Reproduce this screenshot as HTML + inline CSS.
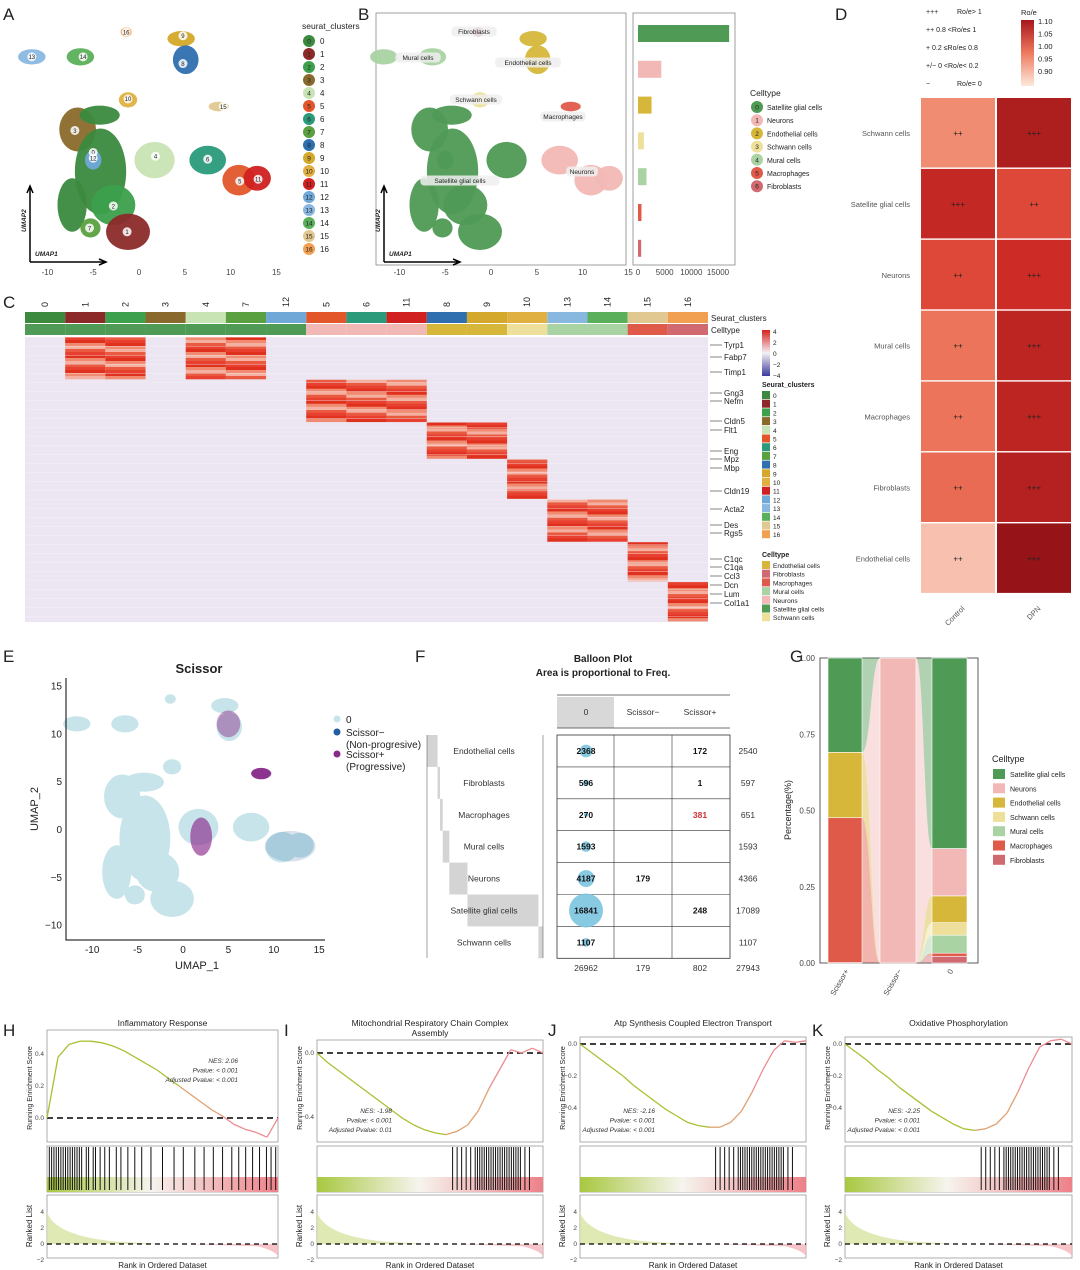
<!DOCTYPE html>
<html><head><meta charset="utf-8"><style>
html,body{margin:0;padding:0;background:#fff;}
svg{display:block;font-family:"Liberation Sans",Arial,sans-serif;}
</style></head><body>
<svg id="fig" width="1080" height="1270" viewBox="0 0 1080 1270" xmlns="http://www.w3.org/2000/svg">
<defs>
<linearGradient id="roeGrad" x1="0" y1="1" x2="0" y2="0"><stop offset="0" stop-color="#fde8dc"/><stop offset="0.5" stop-color="#ee7a5e"/><stop offset="1" stop-color="#a8161c"/></linearGradient>
<linearGradient id="zGrad" x1="0" y1="1" x2="0" y2="0"><stop offset="0" stop-color="#3a3a9a"/><stop offset="0.5" stop-color="#f4f0f6"/><stop offset="1" stop-color="#d8201c"/></linearGradient>
<linearGradient id="rankGrad" x1="0" y1="0" x2="1" y2="0"><stop offset="0" stop-color="#a8c840"/><stop offset="0.45" stop-color="#f6f4ee"/><stop offset="1" stop-color="#ee8088"/></linearGradient>
</defs>
</svg>
<script>
const NS='http://www.w3.org/2000/svg';
const svg=document.getElementById('fig');
function mk(tag,a,p){const e=document.createElementNS(NS,tag);for(const k in a)e.setAttribute(k,a[k]);(p||svg).appendChild(e);return e;}
function tx(x,y,s,size,opt,p){const e=mk('text',Object.assign({x:x,y:y,'font-size':size,fill:'#222'},opt||{}),p);e.textContent=s;return e;}

// ---------- data ----------
const clusterColors=['#3b8a3e','#8c2a2a','#3ca04c','#8a6a2c','#c8e4b4','#e2562a','#2a9a7a','#5aa040','#2f6fb0','#d4a82a','#e0b040','#d02020','#70a8d8','#88b8e0','#5ab05a','#e0c890','#f0a050'];
const cellTypes=['Satellite glial cells','Neurons','Endothelial cells','Schwann cells','Mural cells','Macrophages','Fibroblasts'];
const cellColors=['#4f9a55','#f2b8b5','#d6b73a','#eee09a','#a9d3a3','#e05a4a','#d06a70'];
const clusterToCell=[0,0,0,0,0,1,1,0,2,2,3,1,0,4,4,5,6];
// UMAP blobs: [umapX, umapY, radiusX, radiusY, cluster]
const blobs=[[-11.7,11.0,1.5,0.8,13],[-6.4,11.0,1.5,0.9,14],[-1.4,13.6,0.6,0.5,16],[4.6,12.9,1.5,0.8,9],[5.1,10.7,1.4,1.5,8],[-1.2,6.5,1.0,0.8,10],[8.7,5.8,1.1,0.5,15],[-6.7,3.4,2.0,2.3,3],[-4.3,4.9,2.2,1.0,0],[-4.2,-1.0,2.8,4.5,0],[-7.3,-4.5,1.6,2.8,0],[-5.0,0.2,0.9,1.0,12],[-2.8,-4.5,2.4,2.1,2],[-5.3,-6.9,1.1,1.0,7],[-1.2,-7.3,2.4,1.9,1],[1.7,0.2,2.2,1.9,4],[7.5,0.2,2.0,1.5,6],[10.9,-1.9,1.8,1.6,5],[12.9,-1.7,1.5,1.3,11]];
const cellCounts0=[16841,4187,2368,1107,1593,270,596];
const cellCountsMinus=[0,179,0,0,0,0,0];
const cellCountsPlus=[248,0,172,0,0,381,1];
const barTotals=[17089,4366,2540,1107,1593,651,597];
const roeRows=['Schwann cells','Satellite glial cells','Neurons','Mural cells','Macrophages','Fibroblasts','Endothelial cells'];
const roeControl=[0.95,1.07,1.02,0.97,0.97,0.98,0.91];
const roeDPN=[1.10,1.02,1.06,1.08,1.08,1.09,1.13];
const roeSymControl=['++','+++','++','++','++','++','++'];
const roeSymDPN=['+++','++','+++','+++','+++','+++','+++'];
const heatOrder=[0,1,2,3,4,7,12,5,6,11,8,9,10,13,14,15,16];
const heatBands=[[0,0.15,[1,2,4,7]],[0.15,0.3,[5,6,11]],[0.3,0.43,[8,9]],[0.43,0.57,[10]],[0.57,0.72,[13,14]],[0.72,0.86,[15]],[0.86,1,[16]]];
const geneLabels=['Tyrp1','Fabp7','Timp1','Gng3','Nefm','Cldn5','Flt1','Eng','Mpz','Mbp','Cldn19','Acta2','Des','Rgs5','C1qc','C1qa','Ccl3','Dcn','Lum','Col1a1'];
const geneY=[345,357,372,393,401,421,430,451,459,468,491,509,525,533,559,567,576,585,594,603];
const gseaTitles=['Inflammatory Response','Mitochondrial Respiratory Chain Complex|Assembly','Atp Synthesis Coupled Electron Transport','Oxidative Phosphorylation'];
const gseaStats=[['NES: 2.06','Pvalue: < 0.001','Adjusted Pvalue: < 0.001'],['NES: -1.98','Pvalue: < 0.001','Adjusted Pvalue: 0.01'],['NES: -2.16','Pvalue: < 0.001','Adjusted Pvalue: < 0.001'],['NES: -2.25','Pvalue: < 0.001','Adjusted Pvalue: < 0.001']];
const esUp=[0,0.38,0.46,0.48,0.48,0.47,0.45,0.42,0.38,0.34,0.30,0.25,0.20,0.15,0.10,0.05,0.01,-0.04,-0.07,-0.09,-0.12,0];
const esDownI=[0,-0.06,-0.11,-0.16,-0.21,-0.26,-0.31,-0.36,-0.41,-0.45,-0.48,-0.50,-0.51,-0.49,-0.45,-0.36,-0.22,-0.10,0.02,0.0,0.03,0];
const esDownJ=[0,-0.05,-0.10,-0.15,-0.20,-0.26,-0.31,-0.36,-0.41,-0.45,-0.49,-0.51,-0.52,-0.52,-0.49,-0.42,-0.30,-0.16,-0.04,0.02,0.01,0.02];
const esDownK=[0,-0.05,-0.10,-0.16,-0.21,-0.27,-0.32,-0.37,-0.42,-0.46,-0.50,-0.53,-0.54,-0.53,-0.50,-0.43,-0.30,-0.15,-0.02,0.02,0.03,0];
const hitsUp=[0.01,0.02,0.03,0.04,0.05,0.06,0.07,0.08,0.09,0.1,0.11,0.12,0.13,0.14,0.15,0.17,0.18,0.2,0.21,0.23,0.25,0.27,0.3,0.32,0.35,0.38,0.41,0.45,0.5,0.55,0.59,0.64,0.68,0.72,0.76,0.8,0.83,0.86,0.89,0.92,0.95,0.97,0.99];
const hitsDown=[0.6,0.62,0.64,0.66,0.68,0.7,0.71,0.72,0.73,0.74,0.75,0.76,0.77,0.78,0.79,0.8,0.81,0.82,0.83,0.84,0.85,0.86,0.87,0.88,0.89,0.9,0.92,0.94];

const letters=[['A',3,20],['B',358,20],['C',3,308],['D',835,20],['E',3,662],['F',415,662],['G',790,662],['H',3,1036],['I',284,1036],['J',548,1036],['K',812,1036]];
for(const L of letters){const e=tx(L[1],L[2],L[0],17,{});

}

function umap(ox,oy,sx,sy,colorFn,opac,name){
  const g=mk('g',{});
  
  
  for(const b of blobs){
    const c=mk('ellipse',{cx:ox+b[0]*sx,cy:oy-b[1]*sy,rx:b[2]*sx,ry:b[3]*sy,fill:colorFn(b[4]),opacity:opac},g);
    
    
  }
  return g;
}
umap(139,162,9.16,9.56,k=>clusterColors[k],0.95,'umap-clusters');
const labelPos=[[0,-5,1],[1,-1.3,-7.3],[2,-2.8,-4.6],[3,-7.0,3.3],[4,1.8,0.6],[5,11.0,-2],[6,7.5,0.3],[7,-5.4,-6.9],[8,4.8,10.3],[9,4.8,13.2],[10,-1.2,6.6],[11,13.0,-1.8],[12,-5.0,0.4],[13,-11.7,11],[14,-6.1,11],[15,9.2,5.8],[16,-1.4,13.6]];
for(const l of labelPos){const c=mk('circle',{cx:139+l[1]*9.16,cy:162-l[2]*9.56,r:4.5,fill:'#fff',opacity:0.85});


const t=tx(139+l[1]*9.16,162-l[2]*9.56+2.3,String(l[0]),6,{'text-anchor':'middle'});

}
function umapAxes(x0,y0){
 const a=mk('path',{d:`M${x0},${y0} L${x0},${y0-75} M${x0-3},${y0-69} L${x0},${y0-76} L${x0+3},${y0-69} M${x0},${y0} L${x0+75},${y0} M${x0+69},${y0-3} L${x0+76},${y0} L${x0+69},${y0+3}`,stroke:'#000','stroke-width':1.5,fill:'none'});
 
 
 const u1=tx(x0+5,y0-6,'UMAP1',6.5,{'font-weight':'bold','font-style':'italic'});
 
 
 const u2=tx(x0-4,y0-30,'UMAP2',6.5,{'font-weight':'bold','font-style':'italic',transform:`rotate(-90 ${x0-4} ${y0-30})`});
 
 
}
umapAxes(30,262);
const xTicksU=[-10,-5,0,5,10,15];
for(const v of xTicksU){const t=tx(139+v*9.16,275,String(v),8,{'text-anchor':'middle',fill:'#444'});

}
let t0=tx(302,29,'seurat_clusters',8.5,{});


for(let i=0;i<17;i++){const c=mk('circle',{cx:309,cy:41+13*i,r:6,fill:clusterColors[i]});


const n=tx(309,43.5+13*i,String(i),6.5,{'text-anchor':'middle'});


const t=tx(320,44+13*i,String(i),8,{});

}

const fr=mk('rect',{x:376,y:13,width:250,height:252,fill:'none',stroke:'#888','stroke-width':0.8});


umap(491,162,9.16,9.56,k=>cellColors[clusterToCell[k]],0.95,'umap-celltypes');
umapAxes(384,262);
for(const v of xTicksU){const t=tx(491+v*9.16,275,String(v),8,{'text-anchor':'middle',fill:'#444'});

}
const bLabels=[['Fibroblasts',474,33],['Mural cells',418,59],['Endothelial cells',528,64],['Schwann cells',476,101],['Macrophages',563,118],['Satellite glial cells',460,182],['Neurons',582,173]];
for(const l of bLabels){const w=l[0].length*3.4+8;const r=mk('rect',{x:l[1]-w/2,y:l[2]-6.5,width:w,height:10,rx:4,fill:'#eee',opacity:0.85});


const t=tx(l[1],l[2]+1,l[0],6.5,{'text-anchor':'middle'});

}
const bfr=mk('rect',{x:633,y:13,width:102,height:252,fill:'none',stroke:'#888','stroke-width':0.8});


const bx=v=>638+v*0.005333;
for(let i=0;i<7;i++){const r=mk('rect',{x:bx(0),y:25+35.8*i,width:bx(barTotals[i])-bx(0),height:17,fill:cellColors[i]});

}
const bTicks=[0,5000,10000,15000];
for(const v of bTicks){const t=tx(bx(v),275,String(v),8,{'text-anchor':'middle',fill:'#444'});

}
t0=tx(750,96,'Celltype',8.5,{});


for(let i=0;i<7;i++){const c=mk('circle',{cx:757,cy:107+13.2*i,r:6,fill:cellColors[i]});


const n=tx(757,109.5+13.2*i,String(i),6.5,{'text-anchor':'middle'});


const t=tx(767,110+13.2*i,cellTypes[i],7,{});

}

function roeColor(v){const f=Math.max(0,Math.min(1,(v-0.88)/0.25));
 const stops=[[253,232,220],[238,122,94],[214,48,40],[150,20,24]];
 const p=f*3,i=Math.min(2,Math.floor(p)),t=p-i;const a=stops[i],b=stops[i+1];
 return `rgb(${Math.round(a[0]+(b[0]-a[0])*t)},${Math.round(a[1]+(b[1]-a[1])*t)},${Math.round(a[2]+(b[2]-a[2])*t)})`;}
const dLeg=[['+++','Ro/e> 1',14],['++ 0.8 <Ro/e≤ 1','',32],['+   0.2 ≤Ro/e≤ 0.8','',50],['+/−    0 <Ro/e< 0.2','',68],['−','Ro/e= 0',86]];
for(const l of dLeg){const t=tx(926,l[2],l[0],7,{});


if(l[1]){const t2=tx(957,l[2],l[1],7,{});

}}
t0=tx(1021,15,'Ro/e',7.5,{});


const cb=mk('rect',{x:1021,y:20,width:13,height:66,fill:'url(#roeGrad)'});


const cbTicks=[1.10,1.05,1.00,0.95,0.90];
for(const v of cbTicks){const t=tx(1038,24+(1.10-v)*250,v.toFixed(2),7.5,{});

}
for(let i=0;i<7;i++){const y=98+70.9*i;
 const r1=mk('rect',{x:921,y:y,width:74,height:69.5,fill:roeColor(roeControl[i])});
 
 
 const r2=mk('rect',{x:997,y:y,width:74,height:69.5,fill:roeColor(roeDPN[i])});
 
 
 const s1=tx(958,y+38,roeSymControl[i],8,{'text-anchor':'middle',fill:'#222'});
 
 
 const s2=tx(1034,y+38,roeSymDPN[i],8,{'text-anchor':'middle',fill:'#222'});
 
 
 const l=tx(910,y+38,roeRows[i],7.5,{'text-anchor':'end',fill:'#555'});
 
 }
let tc=tx(958,612,'Control',7.5,{'text-anchor':'end',fill:'#555',transform:'rotate(-45 958 602)'});


tc=tx(1034,612,'DPN',7.5,{'text-anchor':'end',fill:'#555',transform:'rotate(-45 1034 602)'});



const hx0=25,hw=683/17,hy0=337,hy1=622,nRows=95;
const hg=mk('g',{});


const bgC=mk('rect',{x:hx0,y:hy0,width:683,height:hy1-hy0,fill:'#ece6f2'},hg);


const rh=(hy1-hy0)/nRows;
for(let c=0;c<17;c++){const cl=heatOrder[c];
 const r1=mk('rect',{x:hx0+c*hw,y:312,width:hw,height:11,fill:clusterColors[cl]});
 
 
 const r2=mk('rect',{x:hx0+c*hw,y:324,width:hw,height:11,fill:cellColors[clusterToCell[cl]]});
 
 
 const t=tx(hx0+c*hw+hw/2+3,307,String(cl),9,{'text-anchor':'start',transform:`rotate(-90 ${hx0+c*hw+hw/2+3} 307)`});
 
 
 for(const b of heatBands){ if(b[2].indexOf(cl)<0) continue;
  const y0=hy0+b[0]*(hy1-hy0),y1=hy0+b[1]*(hy1-hy0);
  const n=Math.round((y1-y0)/rh);
  for(let r=0;r<n;r++){const k=((r*7+c*3)%5);
   const col=['#e0301e','#ea5a40','#f08a70','#e84030','#f4b0a0'][k];
   const e=mk('rect',{x:hx0+c*hw,y:y0+r*rh,width:hw,height:rh+0.3,fill:col},hg);
   
   }}}
for(let r=0;r<nRows;r+=3){const e=mk('rect',{x:hx0,y:hy0+r*rh,width:683,height:0.6,fill:'#f8f4fa',opacity:0.6},hg);

}
t0=tx(711,321,'Seurat_clusters',8,{});


t0=tx(711,333,'Celltype',8,{});


for(let i=0;i<geneLabels.length;i++){const t=tx(724,geneY[i]+3,geneLabels[i],8,{});


const l=mk('line',{x1:710,y1:geneY[i],x2:722,y2:geneY[i],stroke:'#333','stroke-width':0.6});

}
const zb=mk('rect',{x:762,y:330,width:8,height:46,fill:'url(#zGrad)'});


const zt=[4,2,0,-2,-4];
for(let i=0;i<5;i++){const t=tx(773,334+i*11,String(zt[i]).replace('-','−'),6.5,{});

}
t0=tx(762,387,'Seurat_clusters',7,{'font-weight':'bold'});


for(let i=0;i<17;i++){const r=mk('rect',{x:762,y:391+8.7*i,width:8,height:8,fill:clusterColors[i]});


const t=tx(773,398+8.7*i,String(i),6.5,{});

}
t0=tx(762,557,'Celltype',7,{'font-weight':'bold'});


const ctAlpha=[2,6,5,4,1,0,3];
for(let i=0;i<7;i++){const k=ctAlpha[i];const r=mk('rect',{x:762,y:561+8.7*i,width:8,height:8,fill:cellColors[k]});


const t=tx(773,568+8.7*i,cellTypes[k],6.5,{});

}

t0=tx(199,673,'Scissor',13,{'text-anchor':'middle','font-weight':'bold'});


umap(183,829,9.08,9.56,k=>'#c6e4ea',1,'scissor-umap');
const scissorMarks=[[5.0,11.0,1.3,1.4,'#8a2a8a',0.45],[8.6,5.8,1.1,0.6,'#8a2a8a',0.95],[2.0,-0.8,1.2,2.0,'#8a2a8a',0.65],[11.8,-1.8,2.8,1.6,'#1f5fa0',0.18]];
for(const s of scissorMarks){const e=mk('ellipse',{cx:183+s[0]*9.08,cy:829-s[1]*9.56,rx:s[2]*9.08,ry:s[3]*9.56,fill:s[4],opacity:s[5]});

}
const eax=mk('path',{d:'M66,678 L66,940 L325,940',stroke:'#000','stroke-width':1,fill:'none'});


for(const v of xTicksU){const t=tx(183+v*9.08,953,String(v),10,{'text-anchor':'middle'});

}
const eyT=[15,10,5,0,-5,-10];
for(const v of eyT){const t=tx(62,829-v*9.56+4,String(v).replace('-','−'),10,{'text-anchor':'end'});

}
t0=tx(197,969,'UMAP_1',11,{'text-anchor':'middle'});


t0=tx(38,809,'UMAP_2',11,{'text-anchor':'middle',transform:'rotate(-90 38 809)'});


const eLeg=[['#c6e4ea','0',723],['#1f5fa0','Scissor−',736],['#8a2a8a','Scissor+',758]];
for(const l of eLeg){const c=mk('circle',{cx:337,cy:l[2]-4,r:3.5,fill:l[0]});


const t=tx(346,l[2],l[1],10,{});

}
t0=tx(346,748,'(Non-progresive)',10,{});


t0=tx(346,770,'(Progressive)',10,{});



// Panel F balloon
t0=tx(603,662,'Balloon Plot',10,{'text-anchor':'middle','font-weight':'bold'});


t0=tx(603,676,'Area is proportional to Freq.',10,{'text-anchor':'middle','font-weight':'bold'});


const fOrder=[2,6,5,4,1,0,3];
const colX=[586,643,700],rowY0=735,rH=31.9;
const hdr=mk('rect',{x:557,y:697,width:57,height:31,fill:'#d8d8d8'});


const hl=mk('path',{d:'M557,695 L730,695 M557,728 L730,728',stroke:'#444','stroke-width':0.8});


const colNames=['0','Scissor−','Scissor+'];
for(let j=0;j<3;j++){const t=tx(colX[j],715,colNames[j],8.5,{'text-anchor':'middle',fill:'#333'});

}
const tb=mk('rect',{x:557,y:rowY0,width:173,height:rH*7,fill:'none',stroke:'#333','stroke-width':0.8});


const gl=mk('path',{d:`M614,${rowY0} L614,${rowY0+rH*7} M672,${rowY0} L672,${rowY0+rH*7}`+[1,2,3,4,5,6].map(i=>` M557,${rowY0+rH*i} L730,${rowY0+rH*i}`).join(''),stroke:'#333','stroke-width':0.6});


const maxC=16841;
const cols3=[cellCounts0,cellCountsMinus,cellCountsPlus];
const rowTotals=fOrder.map(k=>cellCounts0[k]+cellCountsMinus[k]+cellCountsPlus[k]);
const allTotal=rowTotals.reduce((a,c)=>a+c,0);
let cum=0;
for(let i=0;i<7;i++){const wpx=rowTotals[i]/allTotal*116;
 const mb=mk('rect',{x:427+cum,y:rowY0+rH*i,width:wpx,height:rH,fill:'#d4d4d4'});
 
 
 cum+=wpx;}
const sums=[0,0,0];let grand=0;
for(let i=0;i<7;i++){const k=fOrder[i];const cy=rowY0+rH*(i+0.5);
 const lab=tx(484,cy+3,cellTypes[k],8.5,{'text-anchor':'middle',fill:'#333'});
 
 
 let rs=0;
 for(let j=0;j<3;j++){const v=cols3[j][k];sums[j]+=v;rs+=v;if(!v)continue;
  if(j===0){const b=mk('circle',{cx:colX[j],cy:cy,r:17*Math.sqrt(v/maxC),fill:'#7cc4e0',opacity:0.9});
  
  }
  const t=tx(colX[j],cy+3,String(v),8.5,{'text-anchor':'middle','font-weight':'bold',fill:(j===2&&k===5)?'#d03030':'#111'});
  
  }
 grand+=rs;
 const tt=tx(748,cy+3,String(rs),8.5,{'text-anchor':'middle',fill:'#333'});
 
 }
for(let j=0;j<3;j++){const t=tx(colX[j],971,String(sums[j]),8.5,{'text-anchor':'middle',fill:'#333'});

}
t0=tx(748,971,String(grand),8.5,{'text-anchor':'middle',fill:'#333'});


const vl=mk('path',{d:'M427,735 L427,958 M543,735 L543,958',stroke:'#666','stroke-width':0.6});



// Panel G alluvial
const gy0=658,gy1=963,gH=gy1-gy0;
const gax=mk('rect',{x:820,y:gy0,width:158,height:gH,fill:'none',stroke:'#333','stroke-width':0.8});


const stackOrder=[6,5,4,3,2,1,0];
const gBars=[[828,34,cellCountsPlus,'Scissor+'],[880,36,cellCountsMinus,'Scissor−'],[932,35,cellCounts0,'0']];
const segs=[];
for(const b of gBars){const tot=b[2].reduce((a,c)=>a+c,0);let acc=0;const s={};
 for(const k of stackOrder){const f=b[2][k]/tot;s[k]=[gy1-(acc+f)*gH,gy1-acc*gH];acc+=f;}
 segs.push(s);}
for(let bi=0;bi<2;bi++){for(const k of stackOrder){const a=segs[bi][k],c=segs[bi+1][k];
 if(a[1]-a[0]<0.01&&c[1]-c[0]<0.01)continue;
 const x1=gBars[bi][0]+gBars[bi][1],x2=gBars[bi+1][0],xm=(x1+x2)/2;
 const f=mk('path',{d:`M${x1},${a[0]} C${xm},${a[0]} ${xm},${c[0]} ${x2},${c[0]} L${x2},${c[1]} C${xm},${c[1]} ${xm},${a[1]} ${x1},${a[1]} Z`,fill:cellColors[k],opacity:0.45});
 
 }}
for(let bi=0;bi<3;bi++){for(const k of stackOrder){const s=segs[bi][k];if(s[1]-s[0]<0.01)continue;
 const r=mk('rect',{x:gBars[bi][0],y:s[0],width:gBars[bi][1],height:s[1]-s[0],fill:cellColors[k],stroke:'#fff','stroke-width':0.6});
 
 }
 const t=tx(gBars[bi][0]+gBars[bi][1]/2+4,971,gBars[bi][3],7.5,{'text-anchor':'end',fill:'#444',transform:`rotate(-60 ${gBars[bi][0]+gBars[bi][1]/2+4} 971)`});
 
 }
const gTicks=[0,0.25,0.5,0.75,1];
for(const v of gTicks){const t=tx(815,gy1-v*gH+3,v.toFixed(2),8,{'text-anchor':'end',fill:'#444'});

}
t0=tx(791,810,'Percentage(%)',9,{'text-anchor':'middle',transform:'rotate(-90 791 810)'});


t0=tx(992,762,'Celltype',9,{});


for(let i=0;i<7;i++){const r=mk('rect',{x:993,y:769+14.3*i,width:12,height:10,fill:cellColors[i]});


const t=tx(1010,777+14.3*i,cellTypes[i],7,{});

}

// GSEA panels
const gsea=[{x0:47,x1:278,es:esUp,hits:hitsUp,zeroY:1118,top:1030},{x0:317,x1:543,es:esDownI,hits:hitsDown,zeroY:1053,top:1040},{x0:580,x1:806,es:esDownJ,hits:hitsDown,zeroY:1044,top:1037},{x0:845,x1:1072,es:esDownK,hits:hitsDown,zeroY:1044,top:1037}];
gsea.forEach((p,gi)=>{
 const w=p.x1-p.x0,sc=160;const yES=v=>p.zeroY-v*sc;const xs=f=>p.x0+f*w;
 const tl=gseaTitles[gi].split('|');
 tl.forEach((s,li)=>{const t=tx((p.x0+p.x1)/2,1026+li*10,s,8.5,{'text-anchor':'middle'});
 
 });
 const box=mk('rect',{x:p.x0,y:p.top,width:w,height:1142-p.top,fill:'none',stroke:'#999','stroke-width':0.8});
 
 
 const dz=mk('line',{x1:p.x0,y1:p.zeroY,x2:p.x1,y2:p.zeroY,stroke:'#000','stroke-width':1.4,'stroke-dasharray':'6,4'});
 
 
 const n=p.es.length;
 for(let i=0;i<n-1;i++){const f=i/(n-1);const col=f<0.55?'#a8c030':(f<0.75?'#e0a070':'#ec8c90');
  const l=mk('line',{x1:xs(i/(n-1)),y1:yES(p.es[i]),x2:xs((i+1)/(n-1)),y2:yES(p.es[i+1]),stroke:col,'stroke-width':1.3});
  
  }
 const st=gseaStats[gi];const sx=gi===0?p.x1-40:p.x0+75,sy=gi===0?1063:1113;
 st.forEach((s,k)=>{const t=tx(sx,sy+k*9.5,s,6.5,{'text-anchor':'end','font-style':'italic',fill:'#333'});
 
 });
 const esT=gi===0?[0.4,0.2,0.0]:[0.0,-0.2,-0.4];
 for(const v of esT){if(gi===1&&v===-0.2)continue;const t=tx(p.x0-3,yES(v)+2,v.toFixed(1).replace('-','−'),6.5,{'text-anchor':'end',fill:'#444'});
 
 }
 const yl=tx(p.x0-15,1088,'Running Enrichment Score',7,{'text-anchor':'middle',transform:`rotate(-90 ${p.x0-15} 1088)`});
 
 
 const bb=mk('rect',{x:p.x0,y:1146,width:w,height:46,fill:'none',stroke:'#999','stroke-width':0.8});
 
 
 const rg=mk('rect',{x:p.x0,y:1177,width:w,height:15,fill:'url(#rankGrad)'});
 
 
 for(const h of p.hits){const l=mk('line',{x1:xs(h),y1:1147,x2:xs(h),y2:1190,stroke:'#111','stroke-width':1});
 
 }
 const rb=mk('rect',{x:p.x0,y:1195,width:w,height:63,fill:'none',stroke:'#999','stroke-width':0.8});
 
 
 const rz=1244,rsc=8;
 const ar=mk('path',{d:`M${p.x0},${rz} L${p.x0},${rz-4*rsc} Q${p.x0+8},${rz-1*rsc} ${p.x0+w*0.3},${rz-0.3*rsc} L${p.x0+w*0.5},${rz} Z`,fill:'#d6e4a0',opacity:0.8});
 
 
 const an=mk('path',{d:`M${p.x0+w*0.6},${rz} L${p.x1-20},${rz+0.3*rsc} Q${p.x1-4},${rz+0.8*rsc} ${p.x1},${rz+1.5*rsc} L${p.x1},${rz} Z`,fill:'#f2b4ba',opacity:0.8});
 
 
 const rzl=mk('line',{x1:p.x0,y1:rz,x2:p.x1,y2:rz,stroke:'#000','stroke-width':1.2,'stroke-dasharray':'5,4'});
 
 
 const rT=[4,2,0,-2];
 for(const v of rT){const t=tx(p.x0-3,rz-v*rsc+2,String(v).replace('-','−'),6.5,{'text-anchor':'end',fill:'#444'});
 
 }
 const ryl=tx(p.x0-15,1226,'Ranked List',8,{'text-anchor':'middle',transform:`rotate(-90 ${p.x0-15} 1226)`});
 
 
 const xl=tx((p.x0+p.x1)/2,1268,'Rank in Ordered Dataset',8,{'text-anchor':'middle'});
 
 
});
</script>
</body></html>
